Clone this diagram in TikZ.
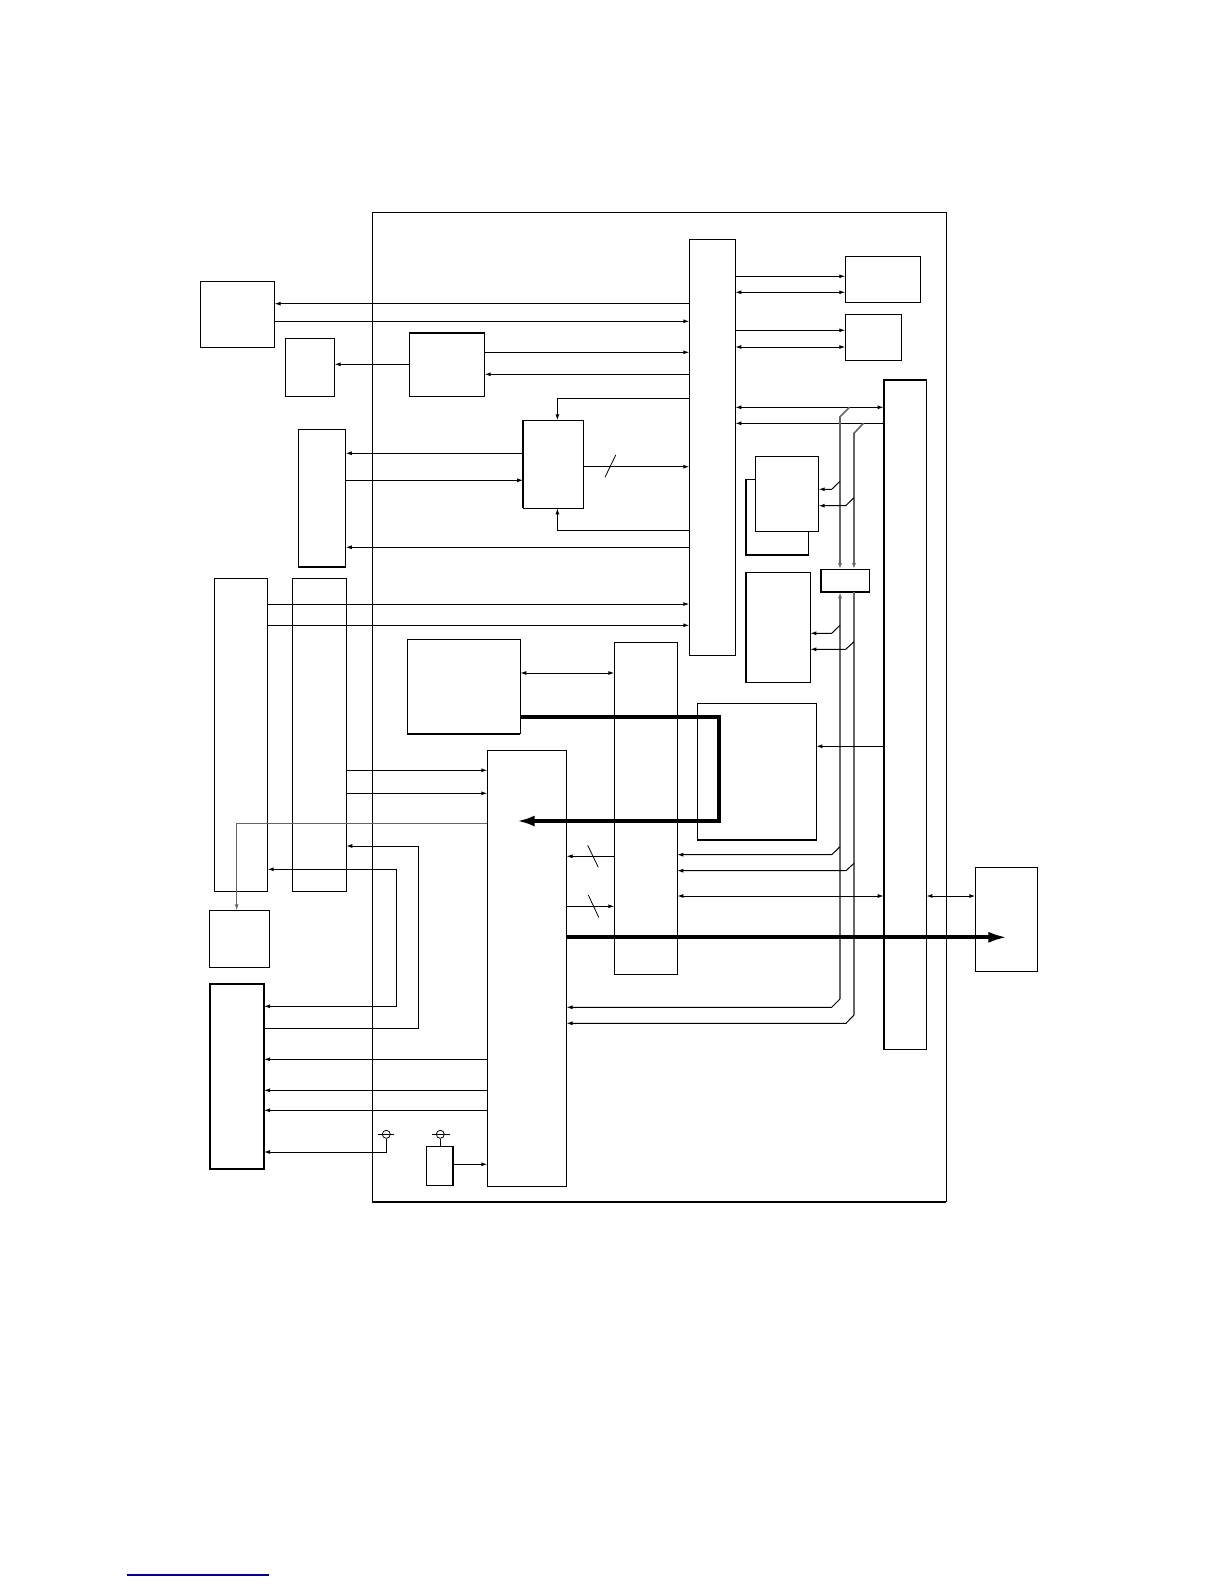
\documentclass[tikz,border=0pt]{standalone}
\usepackage{tikz}
\usetikzlibrary{arrows.meta}
\begin{document}
\begin{tikzpicture}[x=0.5pt,y=-0.5pt,line width=0.5pt,
  blk/.style n args={2}{draw,inner sep=0pt,outer sep=0pt,minimum width=#1*0.5pt,minimum height=#2*0.5pt},
  arr/.style={-{Latex[length=3pt,width=2pt]}},
  darr/.style={{Latex[length=3pt,width=2pt]}-{Latex[length=3pt,width=2pt]}},
  heavy/.style={line width=1.1pt},
  rail/.style={draw=black!60,line width=0.8pt},
  bold/.style={line width=2pt,-{Latex[length=9pt,width=5.5pt]}}]
  \useasboundingbox (0,0) rectangle (1224,1584);
  \node[blk={574}{989.4}] (frame) at (659.3,707) {};
  \node[blk={74.2}{66.3}] (A) at (237.5,314.2) {};
  \node[blk={49.2}{58.7}] (B) at (310,367.4) {};
  \node[blk={75.3}{63.4}] (C) at (447,365) {};
  \node[blk={46}{416}] (bus1) at (712.3,447.3) {};
  \node[blk={75.4}{46}] (F) at (883,279.3) {};
  \node[blk={56}{46}] (G) at (873.3,337.3) {};
  \node[blk={42.6}{669.6}] (bus2) at (905,714.5) {};
  \node[blk={60.4}{88}] (D) at (553.4,464.3) {};
  \node[blk={47.5}{138}] (E) at (322,498.3) {};
  \node[blk={62.6}{75.7}] (I2) at (777,517.2) {};
  \node[blk={63.4}{75.4},fill=white] (I1) at (787,494) {};
  \node[blk={49}{23.3}] (H) at (845.2,580.7) {};
  \node[blk={64.6}{110}] (J) at (778,627.3) {};
  \node[blk={53.4}{313}] (L) at (241,734.8) {};
  \node[blk={54}{313}] (M) at (319.3,734.8) {};
  \node[blk={113}{94.4}] (N) at (463.8,686.5) {};
  \node[blk={63}{331.7}] (O) at (645.8,808.2) {};
  \node[blk={119}{136.7}] (K) at (756.8,771.7) {};
  \node[blk={79.2}{436}] (P) at (526.9,968.3) {};
  \node[blk={60}{57.4}] (Q) at (239.3,939) {};
  \node[blk={54}{184.7},heavy] (R) at (237,1076.7) {};
  \node[blk={26.7}{39}] (S) at (439.7,1165.8) {};
  \node[blk={62.4}{104}] (T) at (1006.5,919.3) {};
  \coordinate (ra) at (840,0);
  \coordinate (rb) at (854,0);
  \draw[heavy] (C.north west) -- (C.north east);
  \draw[heavy] (D.north west) -- (D.south west);
  \draw[heavy] (E.south west) -- (E.south east);
  \draw[heavy] (bus2.south west) -- (bus2.north west) -- (bus2.north east);
  \draw[heavy] (I2.north west) -- (I2.south west) -- (I2.south east);
  \draw[heavy] (H.north west) -- (H.south west) -- (H.south east);
  \draw[heavy] (J.north west) -- (J.south west);
  \draw[heavy] (N.south west) -- (N.south east);
  \draw[heavy] (K.south west) -- (K.south east);
  \draw[heavy] (S.north east) -- (S.south east);
  \draw[heavy] (frame.south west) -- (frame.south east);
  \draw[arr] (bus1.west |- 0,303.7) -- (A.east |- 0,303.7);
  \draw[arr] (A.east |- 0,321.3) -- (bus1.west |- 0,321.3);
  \draw[arr] (C.east |- 0,352.3) -- (bus1.west |- 0,352.3);
  \draw[arr] (bus1.west |- 0,374.3) -- (C.east |- 0,374.3);
  \draw[arr] (C.west |- 0,364.3) -- (B.east |- 0,364.3);
  \draw[arr] (bus1.west |- 0,398.7) -| ([xshift=2pt]D.north);
  \draw[arr] (bus1.west |- 0,530.3) -| ([xshift=2pt]D.south);
  \draw[arr] (D.east |- 0,466.7) -- (bus1.west |- 0,466.7);
  \draw[line width=0.4pt] (605,477.3) -- (615.7,455);
  \draw[arr] (D.west |- 0,453.3) -- (E.east |- 0,453.3);
  \draw[arr] (E.east |- 0,480.3) -- (D.west |- 0,480.3);
  \draw[arr] (bus1.west |- 0,547.3) -- (E.east |- 0,547.3);
  \draw[arr] (bus1.east |- 0,276.3) -- (F.west |- 0,276.3);
  \draw[darr] (bus1.east |- 0,292.3) -- (F.west |- 0,292.3);
  \draw[arr] (bus1.east |- 0,330.3) -- (G.west |- 0,330.3);
  \draw[darr] (bus1.east |- 0,347) -- (G.west |- 0,347);
  \draw[darr] (bus1.east |- 0,407.3) -- (bus2.west |- 0,407.3);
  \draw[arr] (bus2.west |- 0,423.3) -- (bus1.east |- 0,423.3);
  \draw[arr] (L.east |- 0,604) -- (bus1.west |- 0,604);
  \draw[arr] (L.east |- 0,625.3) -- (bus1.west |- 0,625.3);
  \draw[rail,arr] (849.3,407.3) -- (840,416.7) -- (ra |- H.north);
  \draw[rail,arr] (863.3,423.3) -- (854,433.3) -- (rb |- H.north);
  \draw[arr] (840,481.3) -- (831.7,489.3) -- (I1.east |- 0,489.3);
  \draw[arr] (854,497.7) -- (845.7,505.7) -- (I1.east |- 0,505.7);
  \draw[rail,arr] (840,999) -- (ra |- H.south);
  \draw[rail] (rb |- H.south) -- (854,1015);
  \draw[arr] (840,625.3) -- (831.7,633.3) -- (J.east |- 0,633.3);
  \draw[arr] (854,641.7) -- (845.7,649.3) -- (J.east |- 0,649.3);
  \draw[arr] (840,846.7) -- (831.7,854.7) -- (O.east |- 0,854.7);
  \draw[arr] (854,863.3) -- (846,870.7) -- (O.east |- 0,870.7);
  \draw[arr] (840,999) -- (831.7,1007.3) -- (P.east |- 0,1007.3);
  \draw[arr] (854,1015) -- (846,1023.3) -- (P.east |- 0,1023.3);
  \draw[arr] (bus2.west |- 0,746.3) -- (K.east |- 0,746.3);
  \draw[darr] (N.east |- 0,673) -- (O.west |- 0,673);
  \coordinate (tip1) at (516.7,821);
  \draw[bold] (N.east |- 0,716.7) -- (719,716.7) -- (719,821) -- (tip1);
  \draw[arr] (O.west |- 0,856.3) -- (P.east |- 0,856.3);
  \draw[line width=0.4pt] (587.7,845.3) -- (598.3,867.3);
  \draw[arr] (P.east |- 0,906.3) -- (O.west |- 0,906.3);
  \draw[line width=0.4pt] (588.3,895) -- (598.7,917.3);
  \draw[darr] (O.east |- 0,896) -- (bus2.west |- 0,896);
  \draw[darr] (bus2.east |- 0,896) -- (T.west |- 0,896);
  \coordinate (tip2) at (1008.3,937.3);
  \draw[bold,-{Latex[length=10pt,width=5.5pt]}] (P.east |- 0,937.3) -- (tip2);
  \draw[arr] (M.east |- 0,770.3) -- (P.west |- 0,770.3);
  \draw[arr] (M.east |- 0,793.3) -- (P.west |- 0,793.3);
  \draw[rail,line width=0.5pt,arr] (P.west |- 0,823.3) -| ([xshift=-1.3pt]Q.north);
  \draw[arr] (R.east |- 0,1028.3) -| (418.7,846) -- (M.east |- 0,846);
  \draw[darr] (L.east |- 0,869.3) -| (396.3,1006.3) -- (R.east |- 0,1006.3);
  \draw[arr] (P.west |- 0,1059.3) -- (R.east |- 0,1059.3);
  \draw[arr] (P.west |- 0,1090.3) -- (R.east |- 0,1090.3);
  \draw[arr] (P.west |- 0,1110.3) -- (R.east |- 0,1110.3);
  \node[circle,draw,inner sep=0pt,minimum size=4pt,line width=0.4pt] (x1) at (386.3,1134.3) {};
  \node[circle,draw,inner sep=0pt,minimum size=4pt,line width=0.4pt] (x2) at (440.3,1134.3) {};
  \draw[line width=0.4pt] (377.7,1134.3) -- (393.7,1134.3);
  \draw[line width=0.4pt] (432,1134.3) -- (449.7,1134.3);
  \draw[arr] (x1.south) |- (R.east |- 0,1152);
  \draw (x2.south) -- (x2.south |- S.north);
  \draw[arr] (S.east |- 0,1164.3) -- (P.west |- 0,1164.3);
  \draw[blue!55!black,line width=0.8pt] (127.3,1575) -- (269,1575);
\end{tikzpicture}
\end{document}
